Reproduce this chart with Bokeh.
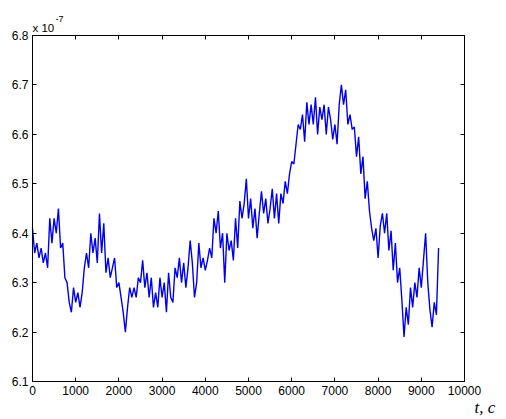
from bokeh.plotting import figure
from bokeh.models import Range1d, LinearAxis, FixedTicker, Title
from bokeh.embed import file_html
from bokeh.resources import INLINE

# time axis, s (uniform sampling step of the read-off series)
t_s = list(range(0, 9401, 50))
# signal values in units of 1e-7
sig = [
    6.41, 6.36, 6.38, 6.35, 6.37, 6.34, 6.36, 6.33, 6.43, 6.38,
    6.43, 6.40, 6.45, 6.37, 6.38, 6.31, 6.30, 6.26, 6.24, 6.29,
    6.26, 6.28, 6.25, 6.28, 6.33, 6.36, 6.33, 6.40, 6.36, 6.39,
    6.34, 6.44, 6.36, 6.42, 6.32, 6.35, 6.31, 6.33, 6.35, 6.29,
    6.30, 6.27, 6.24, 6.20, 6.25, 6.29, 6.27, 6.29, 6.27, 6.31,
    6.30, 6.345, 6.29, 6.32, 6.27, 6.31, 6.25, 6.28, 6.25, 6.31,
    6.27, 6.30, 6.24, 6.32, 6.27, 6.26, 6.33, 6.31, 6.35, 6.30,
    6.34, 6.29, 6.33, 6.385, 6.34, 6.27, 6.30, 6.38, 6.33, 6.35,
    6.325, 6.345, 6.37, 6.35, 6.43, 6.40, 6.445, 6.37, 6.40, 6.30,
    6.40, 6.365, 6.385, 6.345, 6.43, 6.37, 6.465, 6.43, 6.46, 6.51,
    6.43, 6.47, 6.41, 6.45, 6.39, 6.44, 6.485, 6.44, 6.47, 6.42,
    6.45, 6.49, 6.43, 6.48, 6.42, 6.48, 6.46, 6.505, 6.48, 6.52,
    6.545, 6.54, 6.58, 6.62, 6.61, 6.64, 6.585, 6.665, 6.62, 6.66,
    6.62, 6.675, 6.60, 6.655, 6.63, 6.66, 6.60, 6.655, 6.63, 6.59,
    6.62, 6.58, 6.66, 6.70, 6.66, 6.69, 6.62, 6.64, 6.61, 6.615,
    6.555, 6.595, 6.52, 6.555, 6.47, 6.505, 6.445, 6.41, 6.385, 6.41,
    6.35, 6.415, 6.44, 6.40, 6.44, 6.365, 6.405, 6.325, 6.38, 6.30,
    6.33, 6.265, 6.19, 6.25, 6.215, 6.29, 6.25, 6.30, 6.27, 6.33,
    6.29, 6.345, 6.40, 6.30, 6.245, 6.21, 6.26, 6.235, 6.37,
]
x_ticks = [0, 1000, 2000, 3000, 4000, 5000, 6000, 7000, 8000, 9000, 10000]
y_ticks = [6.1, 6.2, 6.3, 6.4, 6.5, 6.6, 6.7, 6.8]
y_tick_labels = ["6.1", "6.2", "6.3", "6.4", "6.5", "6.6", "6.7", "6.8"]
multiplier_text = "x 10"
multiplier_exp = "-7"
x_label = "t, c"

FONT = "Liberation Sans"

p = figure(width=506, height=419, output_backend="svg", toolbar_location=None,
           x_range=Range1d(0, 10000), y_range=Range1d(6.1, 6.8),
           min_border_left=32, min_border_right=42, min_border_top=35,
           min_border_bottom=38)
p.grid.visible = False
p.outline_line_color = "black"
p.outline_line_width = 1
p.background_fill_color = "white"
p.border_fill_color = "white"

p.line(t_s, sig, line_color="#0000f0", line_width=1.4)

def style_axis(ax, ticks, show_labels):
    ax.ticker = FixedTicker(ticks=ticks)
    ax.axis_line_color = "black"
    ax.major_tick_line_color = "black"
    ax.major_tick_in = 4
    ax.major_tick_out = 0
    ax.minor_tick_line_color = None
    ax.major_label_text_font = FONT
    ax.major_label_text_color = "black"
    if show_labels:
        ax.major_label_text_font_size = "12px"
        ax.major_label_standoff = 4
    else:
        ax.major_label_text_font_size = "0px"
        ax.major_label_standoff = 0
        ax.major_label_text_alpha = 0

style_axis(p.xaxis[0], x_ticks, True)
style_axis(p.yaxis[0], y_ticks, True)
p.yaxis[0].major_label_overrides = {v: s for v, s in zip(y_ticks, y_tick_labels)}
p.xaxis[0].major_label_overrides = {v: str(v) for v in x_ticks}

top = LinearAxis()
style_axis(top, x_ticks, False)
p.add_layout(top, "above")
right = LinearAxis()
style_axis(right, y_ticks, False)
p.add_layout(right, "right")

p.add_layout(Title(text=multiplier_text, align="left", offset=0, standoff=0,
                   vertical_align="top", text_font=FONT, text_font_size="11.5px",
                   text_font_style="normal", text_color="black"), "above")
p.add_layout(Title(text=multiplier_exp, align="left", offset=23, standoff=0,
                   vertical_align="bottom", text_font=FONT, text_font_size="9px",
                   text_font_style="normal", text_color="black"), "above")
p.add_layout(Title(text=x_label, align="left", offset=442, standoff=0,
                   vertical_align="top", text_font="Liberation Serif",
                   text_font_size="17px", text_font_style="italic",
                   text_color="black"), "below")

open("out.html", "w").write(file_html(p, INLINE))
